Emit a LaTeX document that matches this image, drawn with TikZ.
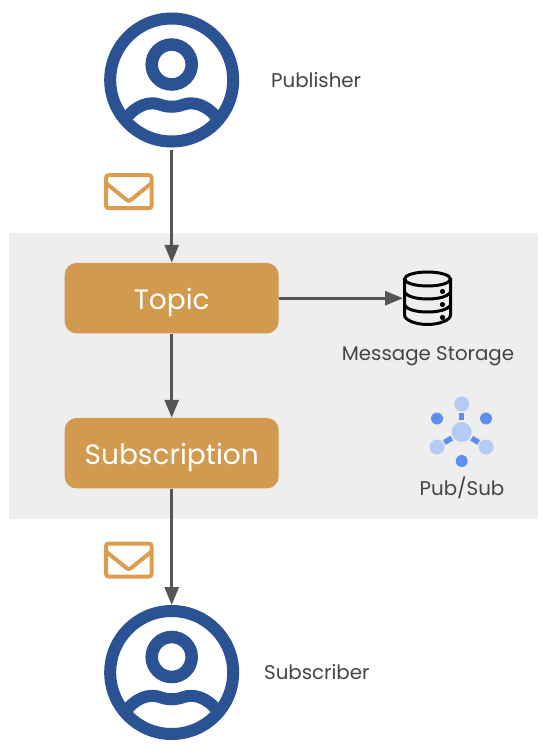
\documentclass[tikz,border=0pt]{standalone}
\usepackage{fontspec}
\setmainfont{Poppins}
\usetikzlibrary{arrows.meta}
\definecolor{personblue}{HTML}{2B5292}
\definecolor{boxorange}{HTML}{D19A4E}
\definecolor{mailorange}{HTML}{DA9E4E}
\definecolor{panelgray}{HTML}{EEEEEE}
\definecolor{linegray}{HTML}{555555}
\definecolor{textgray}{HTML}{444444}
\definecolor{hublight}{HTML}{B3CBF5}
\definecolor{hubdark}{HTML}{5F8FEE}
\tikzset{
    person/.style={circle,draw=personblue,line width=12pt,inner sep=0pt,minimum size=123pt},
    topicbox/.style={rectangle,rounded corners=12pt,fill=boxorange,inner sep=0pt,
        minimum width=214pt,minimum height=70.5pt},
    boxtext/.style={text=white,inner sep=0pt,font=\fontsize{28}{28}\selectfont},
    label/.style={text=textgray,inner sep=0pt,font=\fontsize{19.8}{22}\selectfont},
    mail/.style={rectangle,rounded corners=2.5pt,draw=mailorange,line width=4pt,inner sep=0pt,
        minimum width=45.5pt,minimum height=33pt},
    flow/.style={draw=linegray,line width=3pt,-{Triangle[length=18pt,width=14pt]}},
    hub/.style={circle,fill=hublight,inner sep=0pt,minimum size=15pt},
    spot/.style={circle,fill=hubdark,inner sep=0pt,minimum size=12pt},
    spoke/.style={draw=hubdark,line width=5.5pt,shorten <=1.5pt,shorten >=1pt},
}
% head and shoulders inside a person circle
\newcommand{\personparts}[1]{
    \begin{scope}[shift={(#1.center)}]
        \draw[personblue,line width=12.5pt] (0,-15.5) circle(20);
        \draw[personblue,line width=12pt] (-46,39) .. controls (-36,25) and (-22,21) .. (-12,24.5)
            .. controls (-4,27.5) and (4,27.5) .. (12,24.5)
            .. controls (22,21) and (36,25) .. (46,39);
    \end{scope}
}
% flap of an envelope
\newcommand{\mailflap}[1]{
    \draw[mailorange,line width=4pt,line join=round] ([shift={(2,10)}]#1.north west)
        -- ([shift={(-3,-11)}]#1.south) .. controls ([shift={(0,-9)}]#1.south) .. ([shift={(3,-11)}]#1.south)
        -- ([shift={(-2,10)}]#1.north east);
}

\begin{document}
\begin{tikzpicture}[x=1pt,y=-1pt]
    \useasboundingbox (0,0) rectangle (549,750);
    % Gray panel behind the service
    \fill[panelgray] (9,233) rectangle (538,519);

    % The two people
    \node[person] (publisher) at (171.7,80) {};
    \personparts{publisher}
    \node[person] (subscriber) at (171.7,672.5) {};
    \personparts{subscriber}
    \node[label,anchor=west] (publisherlabel) at (271,80) {Publisher};
    \node[label,anchor=west] (subscriberlabel) at (264,672.5) {Subscriber};

    % The two boxes
    \node[topicbox] (topic) at (171.7,298.2) {};
    \node[boxtext] (topictext) at (171.7,302) {Topic};
    \node[topicbox] (subscription) at (171.7,453.2) {};
    \node[boxtext] (subscriptiontext) at (171.7,457) {Subscription};

    % Envelopes
    \node[mail] (mailtop) at (128.8,191.7) {};
    \mailflap{mailtop}
    \node[mail] (mailbottom) at (128.8,560) {};
    \mailflap{mailbottom}

    % Storage drum
    \coordinate (storage) at (403,298.2);
    \begin{scope}[shift={(427.5,0)},black,line width=3pt]
        \draw (0,279) ellipse (23 and 7);
        \draw (-23,279) -- (-23,315) .. controls (-23,320) and (-12,324.5) .. (0,324.5)
            .. controls (12,324.5) and (23,320) .. (23,315) -- (23,279);
        \draw (-23,292) .. controls (-20,297) and (-10,299) .. (0,299) .. controls (10,299) and (20,297) .. (23,292);
        \draw (-23,305) .. controls (-20,310) and (-10,312) .. (0,312) .. controls (10,312) and (20,310) .. (23,305);
        \fill (15,291.5) circle(2.6);
        \fill (15,304.5) circle(2.6);
        \fill (15,317.5) circle(2.6);
    \end{scope}
    \node[label] (storagelabel) at (428,356) {Message Storage};

    % Pub/Sub mark
    \node[hub,minimum size=20pt] (hubcentre) at (461.7,432) {};
    \node[hub] (hubtop) at (461.7,404) {};
    \node[hub] (hubleft) at (437,447) {};
    \node[hub] (hubright) at (486,447) {};
    \node[spot] (spotleft) at (437,418.5) {};
    \node[spot] (spotright) at (486,418.5) {};
    \node[spot] (spotbottom) at (461.7,461) {};
    \draw[spoke] (hubcentre) -- (hubtop);
    \draw[spoke] (hubcentre) -- (hubleft);
    \draw[spoke] (hubcentre) -- (hubright);
    \node[label] (pubsublabel) at (462,488) {Pub/Sub};

    % Arrows
    \draw[flow,shorten <=2pt] (publisher) -- (topic);
    \draw[flow] (topic) -- (subscription);
    \draw[flow] (subscription) -- (subscriber);
    \draw[flow] (topic) -- (storage);
\end{tikzpicture}
\end{document}
